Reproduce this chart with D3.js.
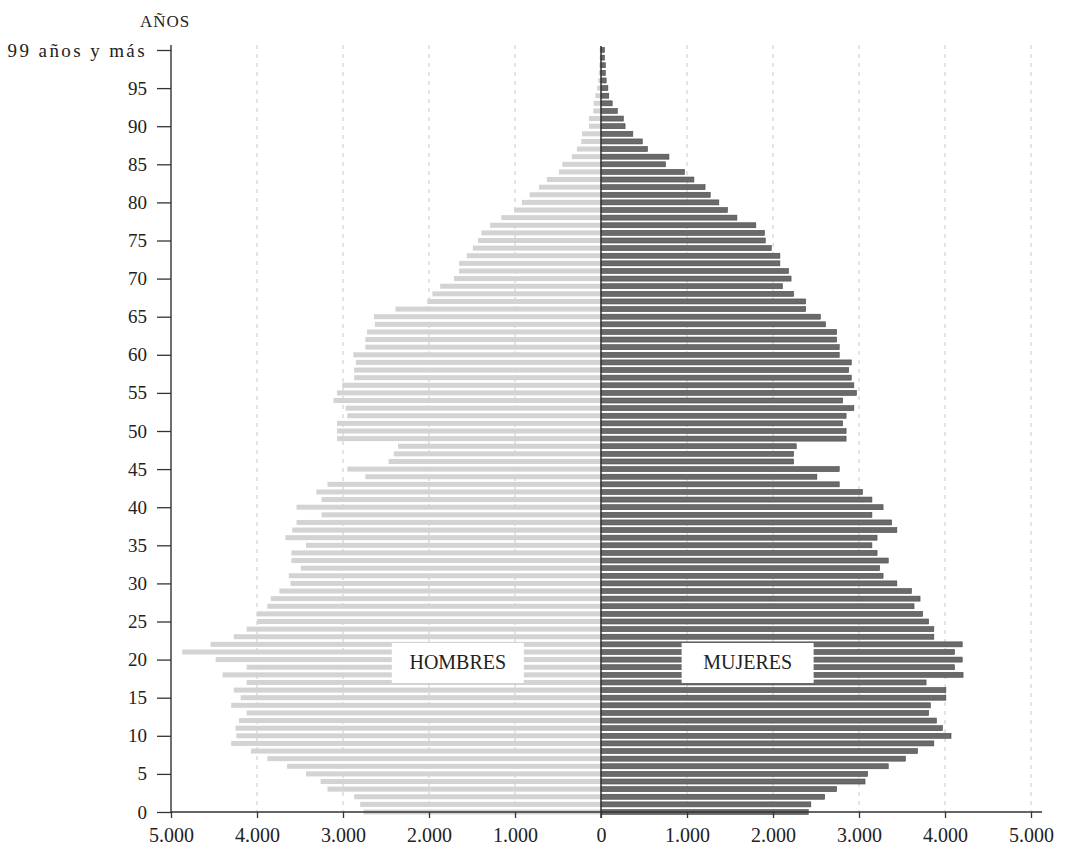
<!DOCTYPE html>
<html>
<head>
<meta charset="utf-8">
<script src="https://cdn.jsdelivr.net/npm/d3@7"></script>
<style>
  body { margin: 0; background: #fff; }
  text { font-family: "Liberation Serif", "Times New Roman", serif; fill: #222; }
</style>
</head>
<body>
<div id="data"></div>
<script>
// one row per year of age, bottom (0) to top
var ages = d3.range(0, 101);

var hombres = [2760, 2800, 2870, 3180, 3260, 3430, 3650, 3880, 4070, 4300,
               4240, 4250, 4210, 4120, 4300, 4190, 4270, 4120, 4400, 4120,
               4480, 4870, 4540, 4270, 4120, 4000, 4000, 3880, 3840, 3740,
               3610, 3630, 3490, 3600, 3600, 3430, 3670, 3590, 3540, 3250,
               3540, 3250, 3310, 3180, 2740, 2950, 2470, 2410, 2360, 3070,
               3070, 3070, 2950, 2970, 3110, 3070, 3010, 2870, 2870, 2850,
               2880, 2740, 2740, 2720, 2630, 2640, 2390, 2020, 1960, 1870,
               1710, 1650, 1650, 1560, 1490, 1430, 1390, 1290, 1160, 1010,
               920, 830, 720, 630, 490, 450, 340, 280, 230, 220,
               140, 140, 90, 85, 65, 45, 30, 25, 20, 15, 15];

var mujeres = [2410, 2440, 2600, 2740, 3070, 3100, 3340, 3540, 3680, 3870,
               4070, 3970, 3900, 3810, 3830, 4010, 4010, 3780, 4210, 4110,
               4200, 4110, 4200, 3870, 3870, 3810, 3740, 3640, 3710, 3610,
               3440, 3280, 3240, 3340, 3210, 3150, 3210, 3440, 3380, 3150,
               3280, 3150, 3040, 2770, 2510, 2770, 2240, 2240, 2270, 2850,
               2850, 2810, 2850, 2940, 2810, 2970, 2940, 2910, 2880, 2910,
               2770, 2770, 2740, 2740, 2610, 2550, 2380, 2380, 2240, 2110,
               2210, 2180, 2080, 2080, 1980, 1910, 1900, 1800, 1580, 1470,
               1370, 1270, 1210, 1080, 970, 750, 790, 540, 480, 370,
               280, 260, 190, 130, 90, 80, 60, 50, 50, 40, 40];

var yTicks = [0, 5, 10, 15, 20, 25, 30, 35, 40, 45, 50, 55, 60, 65, 70, 75, 80, 85, 90, 95, 100];
var yTickLabels = ["0", "5", "10", "15", "20", "25", "30", "35", "40", "45", "50",
                   "55", "60", "65", "70", "75", "80", "85", "90", "95", "99 años y más"];
var xTicks = [-5000, -4000, -3000, -2000, -1000, 0, 1000, 2000, 3000, 4000, 5000];
var xTickLabels = ["5.000", "4.000", "3.000", "2.000", "1.000", "0",
                   "1.000", "2.000", "3.000", "4.000", "5.000"];

var width = 1078, height = 846;

var svg = d3.select("#data").append("svg")
    .attr("width", width)
    .attr("height", height);

var x = d3.scaleLinear().domain([-5000, 5000]).range([171, 1031]);
var y = d3.scaleLinear().domain([0, 100]).range([812, 50]);
var barH = 5;

// dashed grid
svg.append("g")
    .selectAll("line")
    .data(xTicks.filter(function(d) { return d !== 0 && d !== -5000; }))
    .enter()
    .append("line")
    .attr("x1", function(d) { return x(d); })
    .attr("x2", function(d) { return x(d); })
    .attr("y1", 45)
    .attr("y2", y(0))
    .attr("stroke", "#c8c8c8")
    .attr("stroke-width", 1)
    .attr("stroke-dasharray", "4,5");

// men, to the left
svg.append("g")
    .selectAll("rect")
    .data(ages)
    .enter()
    .append("rect")
    .attr("x", function(d) { return x(-hombres[d]); })
    .attr("y", function(d) { return y(d) - barH / 2; })
    .attr("width", function(d) { return x(0) - x(-hombres[d]); })
    .attr("height", barH)
    .attr("fill", "#d3d3d3");

// women, to the right
svg.append("g")
    .selectAll("rect")
    .data(ages)
    .enter()
    .append("rect")
    .attr("x", x(0))
    .attr("y", function(d) { return y(d) - barH / 2; })
    .attr("width", function(d) { return x(mujeres[d]) - x(0); })
    .attr("height", barH)
    .attr("fill", "#6a6a6a")
    .attr("stroke", "#4a4a4a")
    .attr("stroke-width", 0.6);

// centre line
svg.append("line")
    .attr("x1", x(0)).attr("x2", x(0))
    .attr("y1", 46).attr("y2", y(0) + 6)
    .attr("stroke", "#333")
    .attr("stroke-width", 1.5);

// y axis
var yAxis = d3.axisLeft(y)
    .tickValues(yTicks)
    .tickSize(14)
    .tickPadding(10)
    .tickFormat(function(d, i) { return yTickLabels[i]; });

var gy = svg.append("g")
    .attr("transform", "translate(" + x(-5000) + ",0)")
    .call(yAxis);
gy.select(".domain").attr("d", "M0," + (y(100) - 5) + "V" + y(0)).attr("stroke", "#333").attr("stroke-width", 1.4);
gy.selectAll(".tick line").attr("stroke", "#333").attr("stroke-width", 1.3);
gy.selectAll(".tick text")
    .style("font-family", "'Liberation Serif', serif")
    .style("font-size", "19px")
    .attr("fill", "#222");
gy.selectAll(".tick text").filter(function(d) { return d === 100; })
    .style("letter-spacing", "2.4px");

// x axis
var xAxis = d3.axisBottom(x)
    .tickValues(xTicks)
    .tickSize(6)
    .tickPadding(10)
    .tickFormat(function(d, i) { return xTickLabels[i]; });

var gx = svg.append("g")
    .attr("transform", "translate(0," + y(0) + ")")
    .call(xAxis);
gx.select(".domain").attr("d", "M" + x(-5000) + ",0H1042").attr("stroke", "#333").attr("stroke-width", 1.4);
gx.selectAll(".tick line").attr("stroke", "#333").attr("stroke-width", 1.3);
gx.selectAll(".tick text")
    .style("font-family", "'Liberation Serif', serif")
    .style("font-size", "20px")
    .attr("fill", "#222");

// axis title
svg.append("text")
    .attr("x", 140)
    .attr("y", 27)
    .style("font-size", "17px")
    .style("letter-spacing", "1px")
    .text("AÑOS");

// series labels on white boxes
var boxes = [
    {label: "HOMBRES", cx: x(-1665)},
    {label: "MUJERES", cx: x(1705)}
];

svg.selectAll(".box")
    .data(boxes)
    .enter()
    .append("rect")
    .attr("class", "box")
    .attr("x", function(d) { return d.cx - 66; })
    .attr("y", 643)
    .attr("width", 132)
    .attr("height", 40)
    .attr("fill", "#fff");

svg.selectAll(".label")
    .data(boxes)
    .enter()
    .append("text")
    .attr("class", "label")
    .attr("x", function(d) { return d.cx; })
    .attr("y", 669)
    .attr("text-anchor", "middle")
    .style("font-size", "20px")
    .text(function(d) { return d.label; });
</script>
</body>
</html>
